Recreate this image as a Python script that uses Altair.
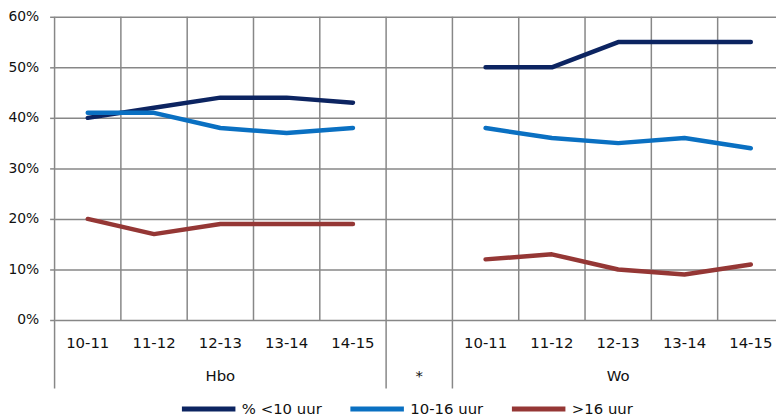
import altair as alt
import pandas as pd

periods = ["10-11", "11-12", "12-13", "13-14", "14-15"]
groups = ["Hbo", "Wo"]
group_slots = [0, 6]          # first slot of each group; slot 5 is the "*" gap
gap_label = "*"
series = ["% <10 uur", "10-16 uur", ">16 uur"]

hbo_lt10 = [0.40, 0.42, 0.44, 0.44, 0.43]
hbo_10_16 = [0.41, 0.41, 0.38, 0.37, 0.38]
hbo_gt16 = [0.20, 0.17, 0.19, 0.19, 0.19]
wo_lt10 = [0.50, 0.50, 0.55, 0.55, 0.55]
wo_10_16 = [0.38, 0.36, 0.35, 0.36, 0.34]
wo_gt16 = [0.12, 0.13, 0.10, 0.09, 0.11]

colors = ["#0c2461", "#0a70c2", "#953735"]
y_ticks = [0, 0.1, 0.2, 0.3, 0.4, 0.5, 0.6]

FONT = "DejaVu Sans"
GRID = "#878787"
TXT = "#111111"
FS = 15

values = {"Hbo": [hbo_lt10, hbo_10_16, hbo_gt16], "Wo": [wo_lt10, wo_10_16, wo_gt16]}
rows = []
for g, start in zip(groups, group_slots):
    for s, vals in zip(series, values[g]):
        for i, (p, v) in enumerate(zip(periods, vals)):
            rows.append({"group": g, "series": s, "period": p, "pos": start + i + 0.5, "value": v})
df = pd.DataFrame(rows)

tick_rows = []
for g, start in zip(groups, group_slots):
    for i, p in enumerate(periods):
        tick_rows.append({"pos": start + i + 0.5, "label": p})
ticks_df = pd.DataFrame(tick_rows)

grp_df = pd.DataFrame({
    "pos": [group_slots[0] + 2.5, 5.5, group_slots[1] + 2.5],
    "label": [groups[0], gap_label, groups[1]],
})

inner_df = pd.DataFrame({"pos": [1, 2, 3, 4, 7, 8, 9, 10]})
sep_df = pd.DataFrame({"pos": [0, 5, 6]})

xscale = alt.Scale(domain=[0, 10.88], nice=False, zero=False)
yscale = alt.Scale(domain=[0, 0.6], nice=False)

H = 306

inner = alt.Chart(inner_df).mark_rule(color=GRID, strokeWidth=1.5).encode(
    x=alt.X("pos:Q", scale=xscale, axis=None),
    y=alt.value(0), y2=alt.value(H),
)
seps = alt.Chart(sep_df).mark_rule(color=GRID, strokeWidth=1.5).encode(
    x=alt.X("pos:Q", scale=xscale, axis=None),
    y=alt.value(0), y2=alt.value(H + 69),
)

lines = alt.Chart(df).mark_line(strokeWidth=4.5, strokeCap="round", strokeJoin="round").encode(
    x=alt.X("pos:Q", scale=xscale, axis=None),
    y=alt.Y("value:Q", scale=yscale, title=None,
            axis=alt.Axis(values=y_ticks, format=".0%", grid=True, gridColor=GRID, gridWidth=1.5,
                          domain=False, ticks=True, tickColor=GRID, tickSize=5, tickWidth=1.5,
                          labelPadding=11, labelFont=FONT, labelFontSize=14, labelColor=TXT)),
    color=alt.Color("series:N", scale=alt.Scale(domain=series, range=colors),
                    legend=alt.Legend(orient="none", legendX=126, legendY=366, direction="horizontal",
                                      title=None, symbolType="stroke", symbolStrokeWidth=5,
                                      symbolSize=2916, labelFont=FONT, labelFontSize=FS,
                                      labelColor=TXT, columnPadding=18, labelOffset=4,
                                      padding=0)),
    detail="group:N",
)

tick_text = alt.Chart(ticks_df).mark_text(font=FONT, fontSize=FS, color=TXT, baseline="middle").encode(
    x=alt.X("pos:Q", scale=xscale, axis=None),
    y=alt.value(H + 23),
    text="label:N",
)
grp_text = alt.Chart(grp_df).mark_text(font=FONT, fontSize=FS, color=TXT, baseline="middle").encode(
    x=alt.X("pos:Q", scale=xscale, axis=None),
    y=alt.value(H + 57),
    text="label:N",
)

chart = alt.layer(inner, seps, lines, tick_text, grp_text).properties(
    width=728, height=H,
    autosize=alt.AutoSizeParams(type="none"),
    padding={"left": 47, "top": 7, "right": 0, "bottom": 96},
    background="white",
).configure_view(stroke=None)

chart.save("out.html", embed_options={"renderer": "svg", "actions": False})
